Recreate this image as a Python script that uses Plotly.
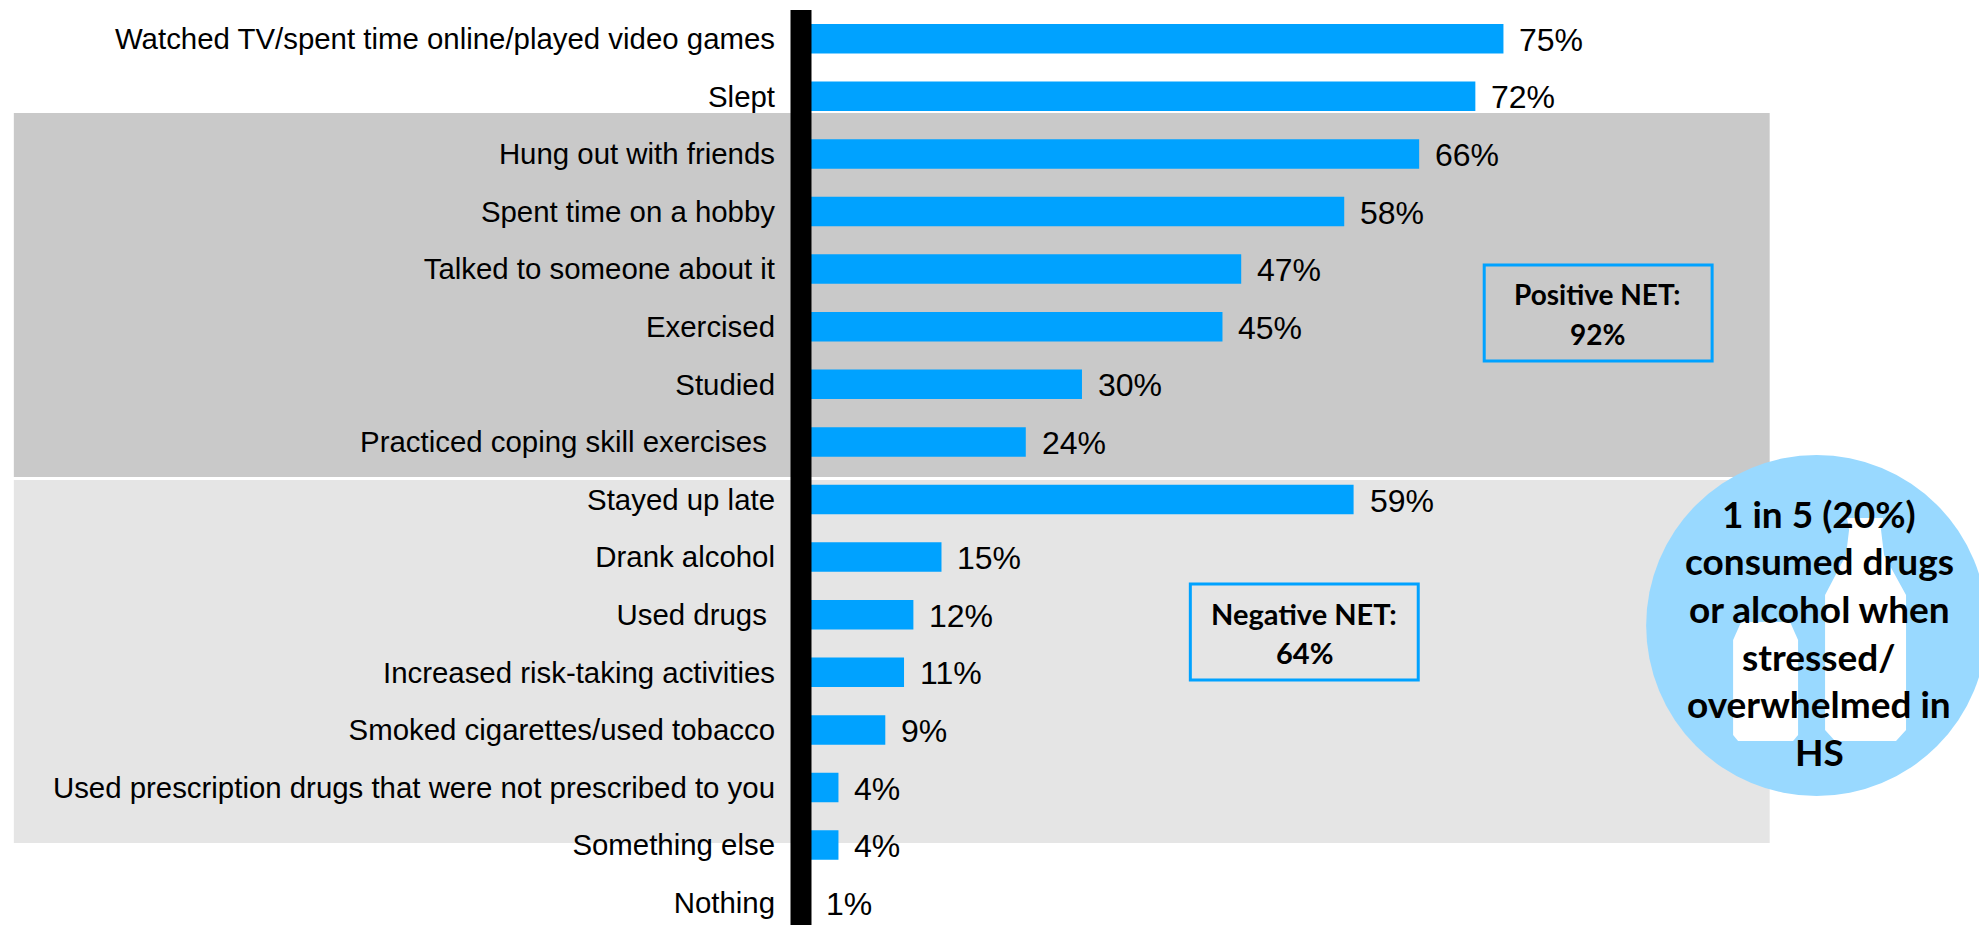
import plotly.graph_objects as go

# Survey responses, in display order
activities = [
    "Watched TV/spent time online/played video games",
    "Slept",
    "Hung out with friends",
    "Spent time on a hobby",
    "Talked to someone about it",
    "Exercised",
    "Studied",
    "Practiced coping skill exercises\u00a0",
    "Stayed up late",
    "Drank alcohol",
    "Used drugs\u00a0",
    "Increased risk-taking activities",
    "Smoked cigarettes/used tobacco",
    "Used prescription drugs that were not prescribed to you",
    "Something else",
    "Nothing",
]
percent = [75, 72, 66, 58, 47, 45, 30, 24, 59, 15, 12, 11, 9, 4, 4, 1]
positive_net = ["Positive NET:", "92%"]
negative_net = ["Negative NET:", "64%"]
callout_lines = [
    "1 in 5 (20%)",
    "consumed drugs",
    "or alcohol when",
    "stressed/",
    "overwhelmed in",
    "HS",
]

WIDTH, HEIGHT = 1979, 925
AXIS_PX = 800.5
PX_PER_PCT = 9.37
ROW_TOP, ROW_STEP = 38.7, 57.6

BLUE = "#00a2ff"
SANS = "Liberation Sans, Arial, sans-serif"
HEAVY = "Lato, Carlito, sans-serif"


def fx(px):
    return (px - AXIS_PX) / (WIDTH - AXIS_PX)


def fy(py):
    return 1 - py / HEIGHT


def rect(x0, y0, x1, y1, fill, line=None, layer="below"):
    return dict(
        type="rect", xref="paper", yref="paper", layer=layer,
        x0=fx(x0), x1=fx(x1), y0=fy(y0), y1=fy(y1),
        fillcolor=fill, line=dict(width=3 if line else 0, color=line or fill),
    )


def bottle_path(points):
    return "M " + " L ".join(f"{fx(x):.5f},{fy(y):.5f}" for x, y in points) + " Z"


def label(text, x, y, size):
    return dict(
        text=f"<b>{text}</b>", xref="paper", yref="paper", x=fx(x), y=fy(y),
        xanchor="center", yanchor="middle", showarrow=False,
        font=dict(family=HEAVY, size=size, color="#000000"),
    )


fig = go.Figure(
    go.Bar(
        x=percent, y=activities, orientation="h",
        marker=dict(color=BLUE, line=dict(width=0)),
        hoverinfo="skip",
    )
)

small_bottle = [
    (1733, 735), (1733, 640), (1741, 622), (1790, 622), (1798, 640), (1798, 735), (1793, 741), (1738, 741),
]
large_bottle = [
    (1825, 730), (1825, 595), (1846, 555), (1849, 530), (1847, 518), (1883, 518), (1881, 530),
    (1884, 555), (1906, 595), (1906, 730), (1896, 741), (1835, 741),
]

shapes = [
    # Grouping bands behind the bars
    rect(13, 113, 1769.6, 477, "#c9c9c9"),
    rect(13, 480, 1769.6, 843, "#e5e5e5"),
    # NET summary boxes
    rect(1484, 265, 1712, 361, "rgba(0,0,0,0)", line=BLUE, layer="above"),
    rect(1190, 584, 1418, 680, "rgba(0,0,0,0)", line=BLUE, layer="above"),
    # Heavy vertical baseline
    rect(790, 10, 811, 925, "#000000", layer="above"),
    # Callout disc with bottle silhouettes
    dict(type="circle", xref="paper", yref="paper", layer="above",
         x0=fx(1646), x1=fx(1987), y0=fy(796), y1=fy(455),
         fillcolor="#99d9ff", line=dict(width=0)),
    dict(type="path", xref="paper", yref="paper", layer="above",
         path=bottle_path(small_bottle), fillcolor="#ffffff", line=dict(width=0)),
    dict(type="path", xref="paper", yref="paper", layer="above",
         path=bottle_path(large_bottle), fillcolor="#ffffff", line=dict(width=0)),
]

annotations = [
    dict(
        text=f"{v}%", x=v, y=name, xref="x", yref="y",
        xanchor="left", yanchor="middle", xshift=14, yshift=-1, showarrow=False,
        font=dict(family=SANS, size=32, color="#000000"),
    )
    for name, v in zip(activities, percent)
]
for i, line in enumerate(positive_net):
    annotations.append(label(line, 1597.5, 294 + i * 39.5, 28))
for i, line in enumerate(negative_net):
    annotations.append(label(line, 1304, 613 + i * 39.5, 29))
for i, line in enumerate(callout_lines):
    annotations.append(label(line, 1819, 513 + i * 47.7, 37))

fig.update_layout(
    width=WIDTH, height=HEIGHT,
    margin=dict(l=AXIS_PX, r=0, t=0, b=0),
    paper_bgcolor="#ffffff", plot_bgcolor="rgba(0,0,0,0)",
    bargap=0.488, showlegend=False,
    shapes=shapes, annotations=annotations,
    xaxis=dict(range=[0, (WIDTH - AXIS_PX) / PX_PER_PCT], visible=False, fixedrange=True),
    yaxis=dict(
        type="category", categoryorder="array", categoryarray=activities,
        range=[(HEIGHT - ROW_TOP) / ROW_STEP, -ROW_TOP / ROW_STEP],
        showgrid=False, zeroline=False, showline=False, ticks="",
        ticklabelstandoff=25,
        tickfont=dict(family=SANS, size=29.4, color="#000000"),
        fixedrange=True,
    ),
)

fig.write_html("out.html", config=dict(displayModeBar=False))
